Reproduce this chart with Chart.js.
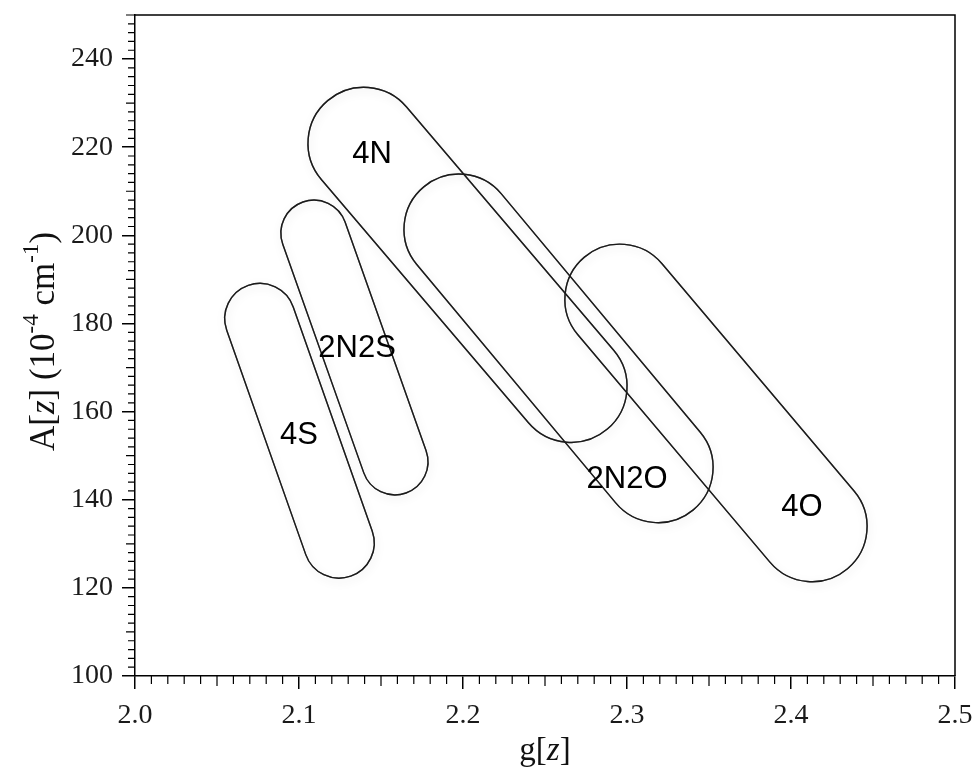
<!DOCTYPE html>
<html lang="en">
<head>
    <meta charset="UTF-8">
    <title>A[z] vs g[z]</title>
    <script src="https://cdn.jsdelivr.net/npm/chart.js"></script>
    <style>
        body { margin: 0; background: #fff; }
        #wrap { width: 977px; height: 773px; }
    </style>
</head>
<body>
    <div id="wrap"><canvas id="plot" width="977" height="773"></canvas></div>

    <script>
        // Regions (stadium shapes): centre of each rounded end, plus half-width in A units
        const groups = ['4S', '2N2S', '4N', '2N2O', '4O'];
        const gStart = [2.0762, 2.1091, 2.1396, 2.1976, 2.2957];
        const aStart = [181.1, 200.5, 220.9, 201.4, 185.5];
        const gEnd = [2.1244, 2.1585, 2.2659, 2.3189, 2.4128];
        const aEnd = [130.2, 148.6, 165.7, 147.3, 133.9];
        const halfWidthA = [8.0, 7.5, 12.7, 12.5, 12.5];

        // where each group name sits
        const labelG = [2.1000, 2.1354, 2.1445, 2.3000, 2.4067];
        const labelA = [154.5, 174.3, 218.4, 144.5, 138.2];

        // axis ticks
        const xTicks = [2.0, 2.1, 2.2, 2.3, 2.4, 2.5];
        const yTicks = [100, 120, 140, 160, 180, 200, 220, 240];

        const serif = "'Liberation Serif', 'Times New Roman', serif";
        const sans = "'Liberation Sans', Arial, sans-serif";

        // draws the rounded regions and their names
        const regionPlugin = {
            id: 'regions',
            afterDatasetsDraw(chart) {
                const { ctx, chartArea, scales: { x, y } } = chart;
                ctx.save();
                ctx.beginPath();
                ctx.rect(chartArea.left, chartArea.top, chartArea.right - chartArea.left, chartArea.bottom - chartArea.top);
                ctx.clip();

                const paths = groups.map((name, i) => {
                    const x1 = x.getPixelForValue(gStart[i]);
                    const y1 = y.getPixelForValue(aStart[i]);
                    const x2 = x.getPixelForValue(gEnd[i]);
                    const y2 = y.getPixelForValue(aEnd[i]);
                    const r = Math.abs(y.getPixelForValue(100) - y.getPixelForValue(100 + halfWidthA[i]));
                    const ang = Math.atan2(y2 - y1, x2 - x1);
                    const p = new Path2D();
                    p.arc(x2, y2, r, ang - Math.PI / 2, ang + Math.PI / 2);
                    p.arc(x1, y1, r, ang + Math.PI / 2, ang + Math.PI * 1.5);
                    p.closePath();
                    return p;
                });

                // soft shadow first
                ctx.shadowColor = 'rgba(0,0,0,0.3)';
                ctx.shadowBlur = 10;
                ctx.shadowOffsetX = 1;
                ctx.shadowOffsetY = 3;
                ctx.strokeStyle = 'rgba(0,0,0,0.5)';
                ctx.lineWidth = 1.4;
                paths.forEach(p => ctx.stroke(p));

                // crisp outlines on top
                ctx.shadowColor = 'transparent';
                ctx.shadowBlur = 0;
                ctx.shadowOffsetX = 0;
                ctx.shadowOffsetY = 0;
                ctx.strokeStyle = '#1a1a1a';
                ctx.lineWidth = 1.4;
                paths.forEach(p => ctx.stroke(p));

                ctx.fillStyle = '#000';
                ctx.font = '31px ' + sans;
                ctx.textAlign = 'center';
                ctx.textBaseline = 'middle';
                groups.forEach((name, i) => {
                    ctx.fillText(name, x.getPixelForValue(labelG[i]), y.getPixelForValue(labelA[i]));
                });
                ctx.restore();
            }
        };

        // frame, minor ticks and axis titles
        const framePlugin = {
            id: 'frame',
            afterDraw(chart) {
                const { ctx, chartArea: ca, scales: { x, y } } = chart;
                ctx.save();
                ctx.strokeStyle = '#000';
                ctx.lineWidth = 1.5;
                ctx.beginPath();
                ctx.moveTo(ca.left, ca.top);
                ctx.lineTo(ca.right, ca.top);
                ctx.lineTo(ca.right, ca.bottom);
                ctx.stroke();

                ctx.lineWidth = 1.2;
                ctx.beginPath();
                for (let k = 200; k <= 250; k++) {
                    if (k % 10 === 0) continue;
                    const px = x.getPixelForValue(k / 100);
                    const len = k % 5 === 0 ? 10 : 8;
                    ctx.moveTo(px, ca.bottom);
                    ctx.lineTo(px, ca.bottom + len);
                }
                for (let k = 50; k <= 125; k++) {
                    const v = k * 2;
                    if (v % 20 === 0 && v <= 240) continue;
                    const py = y.getPixelForValue(v);
                    const len = v % 10 === 0 ? 9 : 7;
                    ctx.moveTo(ca.left - len, py);
                    ctx.lineTo(ca.left, py);
                }
                ctx.stroke();

                ctx.fillStyle = '#111';
                ctx.textBaseline = 'alphabetic';

                const drawRuns = (runs, cx, cy) => {
                    let w = 0;
                    runs.forEach(r => { ctx.font = r.f; w += ctx.measureText(r.t).width; });
                    let pos = cx - w / 2;
                    runs.forEach(r => {
                        ctx.font = r.f;
                        ctx.textAlign = 'left';
                        ctx.fillText(r.t, pos, cy - (r.up || 0));
                        pos += ctx.measureText(r.t).width;
                    });
                };
                // x title: g[z]
                drawRuns([
                    { t: 'g[', f: '33px ' + serif },
                    { t: 'z', f: 'italic 33px ' + serif },
                    { t: ']', f: '33px ' + serif }
                ], (ca.left + ca.right) / 2, 760);

                // y title: A[z] (10^-4 cm^-1)
                const big = '35px ' + serif;
                const ital = 'italic 35px ' + serif;
                const small = '23px ' + serif;
                ctx.save();
                ctx.translate(54, (ca.top + ca.bottom) / 2 - 4);
                ctx.rotate(-Math.PI / 2);
                drawRuns([
                    { t: 'A[', f: big }, { t: 'z', f: ital }, { t: '] (10', f: big },
                    { t: '-4', f: small, up: 16 }, { t: ' cm', f: big },
                    { t: '-1', f: small, up: 16 }, { t: ')', f: big }
                ], 0, 0);
                ctx.restore();
                ctx.restore();
            }
        };

        const datasets = groups.map((name, i) => ({
            label: name,
            data: [{ x: gStart[i], y: aStart[i] }, { x: gEnd[i], y: aEnd[i] }],
            pointRadius: 0,
            showLine: false
        }));

        new Chart(document.getElementById('plot').getContext('2d'), {
            type: 'scatter',
            data: { datasets: datasets },
            options: {
                responsive: false,
                animation: false,
                events: [],
                layout: { padding: { top: 15, right: 22, left: 0, bottom: 0 } },
                plugins: { legend: { display: false }, tooltip: { enabled: false } },
                scales: {
                    x: {
                        type: 'linear',
                        min: 2.0,
                        max: 2.5,
                        afterFit: s => { s.height = 97; s.paddingLeft = 0; s.paddingRight = 0; },
                        afterBuildTicks: s => { s.ticks = xTicks.map(v => ({ value: v })); },
                        grid: { drawOnChartArea: false, drawTicks: true, tickLength: 13, color: '#000', lineWidth: 1.5 },
                        border: { display: true, color: '#000', width: 1.5 },
                        ticks: {
                            color: '#1a1a1a',
                            font: { family: serif, size: 28 },
                            padding: 10,
                            maxRotation: 0,
                            callback: v => Number(v).toFixed(1)
                        }
                    },
                    y: {
                        type: 'linear',
                        min: 100,
                        max: 250,
                        afterFit: s => { s.width = 135; s.paddingTop = 0; s.paddingBottom = 0; },
                        afterBuildTicks: s => { s.ticks = yTicks.map(v => ({ value: v })); },
                        grid: { drawOnChartArea: false, drawTicks: true, tickLength: 13, color: '#000', lineWidth: 1.5 },
                        border: { display: true, color: '#000', width: 1.5 },
                        ticks: {
                            color: '#1a1a1a',
                            font: { family: serif, size: 28 },
                            padding: 9
                        }
                    }
                }
            },
            plugins: [regionPlugin, framePlugin]
        });
    </script>
</body>
</html>
